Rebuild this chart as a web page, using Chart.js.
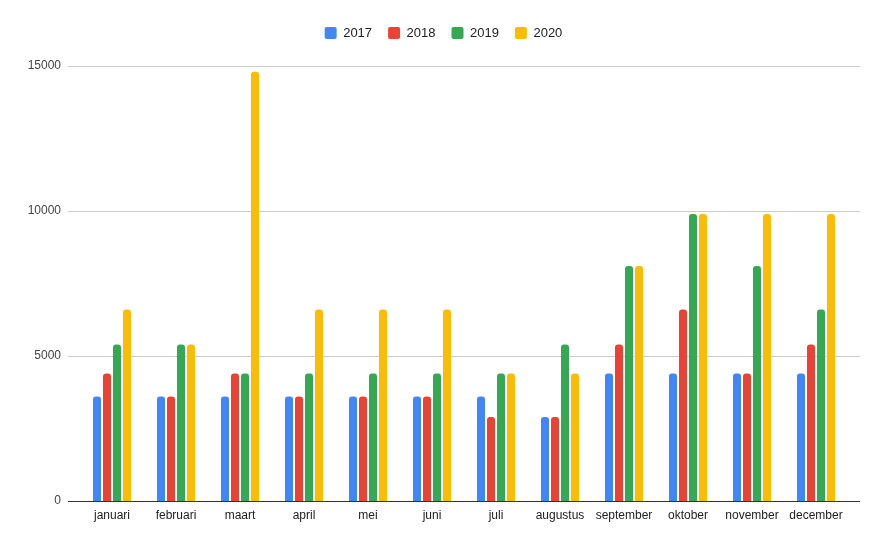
<!DOCTYPE html>
<html>
<head>
<meta charset="utf-8">
<script src="https://cdn.jsdelivr.net/npm/chart.js@4"></script>
<style>
  html, body { margin: 0; padding: 0; background: #fff; }
  #wrap { width: 887px; height: 549px; }
</style>
</head>
<body>
<div id="wrap"><canvas id="chart" width="887" height="549"></canvas></div>
<script>
// months and yearly values
const months = ["januari", "februari", "maart", "april", "mei", "juni", "juli", "augustus", "september", "oktober", "november", "december"];
const years = ["2017", "2018", "2019", "2020"];
const values2017 = [3600, 3600, 3600, 3600, 3600, 3600, 3600, 2900, 4400, 4400, 4400, 4400];
const values2018 = [4400, 3600, 4400, 3600, 3600, 3600, 2900, 2900, 5400, 6600, 4400, 5400];
const values2019 = [5400, 5400, 4400, 4400, 4400, 4400, 4400, 5400, 8100, 9900, 8100, 6600];
const values2020 = [6600, 5400, 14800, 6600, 6600, 6600, 4400, 4400, 8100, 9900, 9900, 9900];
const yTicks = [0, 5000, 10000, 15000];

const colors = ["#4285F4", "#EA4335", "#34A853", "#FBBC04"];
const series = [values2017, values2018, values2019, values2020];

Chart.defaults.font.family = "'Liberation Sans', Arial, sans-serif";

// push the chart area down a bit below the legend
const legendSpacer = {
  id: "legendSpacer",
  beforeInit(chart) {
    const fit = chart.legend.fit;
    chart.legend.fit = function () {
      fit.call(this);
      this.height += 16.5;
    };
  }
};

// gridlines a bit wider than the bar area, like the original
const wideGrid = {
  id: "wideGrid",
  beforeDatasetsDraw(chart) {
    const { ctx, chartArea } = chart;
    const y = chart.scales.y;
    const x0 = chartArea.left - 12, x1 = chartArea.right + 12;
    ctx.save();
    yTicks.forEach(v => {
      const py = Math.round(y.getPixelForValue(v)) + 0.5;
      ctx.strokeStyle = v === 0 ? "#333333" : "#cccccc";
      ctx.lineWidth = 1;
      ctx.beginPath();
      ctx.moveTo(x0, py);
      ctx.lineTo(x1, py);
      ctx.stroke();
    });
    ctx.restore();
  }
};

new Chart(document.getElementById("chart"), {
  type: "bar",
  data: {
    labels: months,
    datasets: years.map((yr, i) => ({
      label: yr,
      data: series[i],
      backgroundColor: colors[i],
      borderWidth: 0,
      borderRadius: { topLeft: 3, topRight: 3 },
      borderSkipped: "start",
      categoryPercentage: 0.625,
      barPercentage: 0.8
    }))
  },
  plugins: [legendSpacer, wideGrid],
  options: {
    responsive: false,
    animation: false,
    layout: { padding: { top: 10.5, left: 0, right: 0, bottom: 0 } },
    plugins: {
      legend: {
        position: "top",
        labels: {
          boxWidth: 12,
          boxHeight: 12,
          padding: 16,
          useBorderRadius: true,
          borderRadius: 2,
          color: "#222222",
          font: { size: 13 }
        }
      },
      tooltip: { enabled: false }
    },
    scales: {
      x: {
        grid: { display: false, drawTicks: false },
        border: { display: false },
        ticks: { color: "#222222", font: { size: 12 }, padding: 7, maxRotation: 0 },
        afterFit(scale) { scale.height = 48; }
      },
      y: {
        min: 0,
        max: 15000,
        grid: { display: false, drawTicks: false },
        border: { display: false },
        ticks: {
          stepSize: 5000,
          color: "#444444",
          font: { size: 12 },
          padding: 19,
          callback: v => String(v)
        },
        afterFit(scale) { scale.width = 80; }
      },
      // empty right axis, only reserves space so the legend stays centred
      yRight: {
        position: "right",
        grid: { display: false, drawTicks: false },
        border: { display: false },
        ticks: { display: false },
        afterFit(scale) { scale.width = 39; }
      }
    }
  }
});
</script>
</body>
</html>
